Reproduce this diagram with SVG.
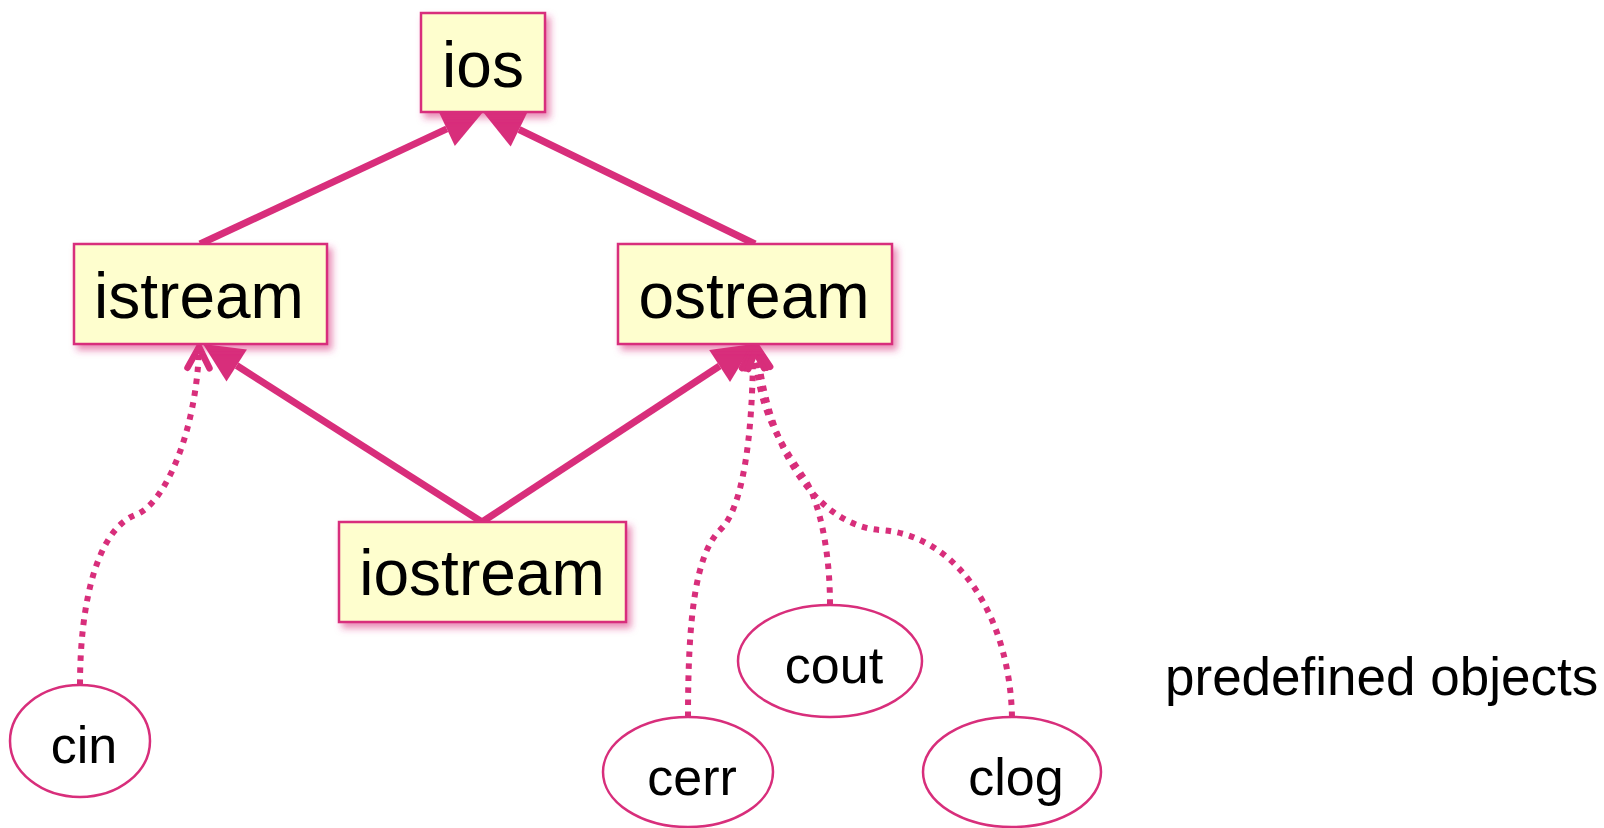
<svg xmlns="http://www.w3.org/2000/svg" width="1604" height="828" viewBox="0 0 1604 828">
  <style>
    .box { fill: #FEFECE; stroke: #D82E7B; stroke-width: 2.5; filter: url(#shadow); }
    .obj { fill: #FFFFFF; stroke: #D82E7B; stroke-width: 2.5; }
    .cls { font-family: "Liberation Sans", Arial, sans-serif; font-size: 64px; fill: #000; text-anchor: middle; }
    .lbl { font-family: "Liberation Sans", Arial, sans-serif; font-size: 52px; fill: #000; text-anchor: middle; }
    .note { font-family: "Liberation Sans", Arial, sans-serif; font-size: 53px; fill: #000; }
    .ext { fill: none; stroke: #D82E7B; stroke-width: 7; marker-end: url(#solidHead); }
    .inst { fill: none; stroke: #D82E7B; stroke-width: 6; stroke-dasharray: 5.5 6.5; marker-end: url(#openHead); }
  </style>
  <defs>
    <filter id="shadow" x="-10%" y="-10%" width="130%" height="140%">
      <feGaussianBlur in="SourceAlpha" stdDeviation="3.5"/>
      <feOffset dx="4" dy="5" result="blur"/>
      <feFlood flood-color="#D82E7B" flood-opacity="0.55"/>
      <feComposite in2="blur" operator="in" result="tint"/>
      <feMerge>
        <feMergeNode in="tint"/>
        <feMergeNode in="SourceGraphic"/>
      </feMerge>
    </filter>
    <!-- filled triangle; path ends at the base, tip sits 40 further on -->
    <marker id="solidHead" markerUnits="userSpaceOnUse" viewBox="0 -20 42 40" markerWidth="42" markerHeight="40" refX="0" refY="0" orient="auto" overflow="visible">
      <path d="M0,-19 L40,0 L0,19 Z" fill="#D82E7B"/>
    </marker>
    <!-- open chevron for the dotted links -->
    <marker id="openHead" markerUnits="userSpaceOnUse" viewBox="-26 -14 30 28" markerWidth="30" markerHeight="28" refX="0" refY="0" orient="auto" overflow="visible">
      <path d="M-21,-11 L0,0 L-21,11" fill="none" stroke="#D82E7B" stroke-width="6.5" stroke-linecap="round" stroke-linejoin="round"/>
    </marker>
  </defs>

  <rect width="1604" height="828" fill="#FFFFFF"/>

  <g id="connectors">
    <!-- inheritance -->
    <path class="ext" d="M200,244 L446.8,128.9"/>
    <path class="ext" d="M755,244 L519,129.5"/>
    <path class="ext" d="M482,522 L236.7,365.5"/>
    <path class="ext" d="M482,522 L719.6,366"/>
    <!-- instances -->
    <path class="inst" d="M80,685 C80,600 98,530 135,515 C165,505 197,430 199,347"/>
    <path class="inst" d="M688,717 C688,620 695,555 720,530 C742,510 753,440 753,347"/>
    <path class="inst" d="M830,605 C830,560 823,520 812,493 C800,464 758,430 755,347"/>
    <path class="inst" d="M1012,717 C1010,620 960,535 880,530 C830,527 770,470 757,347"/>
  </g>

  <g id="ios">
    <rect class="box" x="421" y="13" width="124" height="99"/>
    <text class="cls" x="483" y="87">ios</text>
  </g>
  <g id="istream">
    <rect class="box" x="74" y="244" width="253" height="100"/>
    <text class="cls" x="199" y="318">istream</text>
  </g>
  <g id="ostream">
    <rect class="box" x="618" y="244" width="274" height="100"/>
    <text class="cls" x="754" y="318">ostream</text>
  </g>
  <g id="iostream">
    <rect class="box" x="339" y="522" width="287" height="100"/>
    <text class="cls" x="482" y="595">iostream</text>
  </g>

  <g id="cin">
    <ellipse class="obj" cx="80" cy="741" rx="70" ry="56"/>
    <text class="lbl" x="84" y="763">cin</text>
  </g>
  <g id="cerr">
    <ellipse class="obj" cx="688" cy="772" rx="85" ry="55"/>
    <text class="lbl" x="692" y="795">cerr</text>
  </g>
  <g id="cout">
    <ellipse class="obj" cx="830" cy="661" rx="92" ry="56"/>
    <text class="lbl" x="834" y="683">cout</text>
  </g>
  <g id="clog">
    <ellipse class="obj" cx="1012" cy="772" rx="89" ry="55"/>
    <text class="lbl" x="1016" y="795">clog</text>
  </g>

  <g id="predefined-objects">
    <text class="note" x="1165" y="695">predefined objects</text>
  </g>
</svg>
